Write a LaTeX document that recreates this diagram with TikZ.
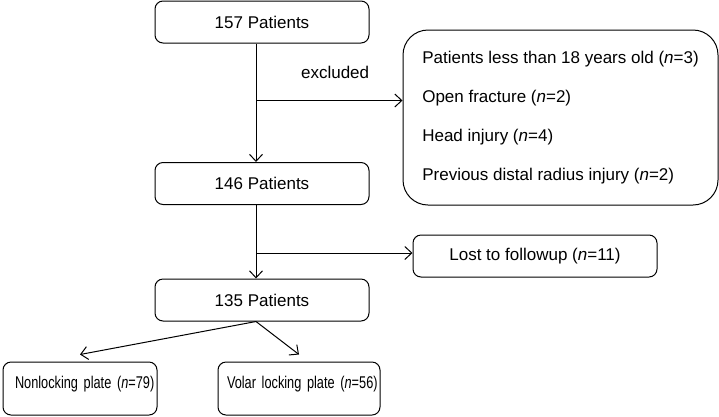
\documentclass[tikz,border=0pt]{standalone}
\usepackage{fontspec}
\setmainfont{Liberation Sans}
\newfontfamily\narrowfont[FakeStretch=0.75]{Liberation Sans}
\usetikzlibrary{positioning, arrows.meta}

\begin{document}
\begin{tikzpicture}[x=1pt, y=-1pt, on grid, line width=1pt,
    font=\fontsize{17}{20}\selectfont,
    >={Straight Barb[length=7pt, width=13pt]}]
                \tikzset{
                    box/.style={draw, rounded corners=8pt, minimum width=214pt, minimum height=42pt, inner sep=0pt},
                    leafbox/.style={draw, rounded corners=8pt, align=left, text height=18pt, text depth=19pt, inner ysep=8pt,
                                    font=\narrowfont\fontsize{17}{20}\selectfont}
                }
                \useasboundingbox (0,0) rectangle (719,416);

                % PATIENT COUNTS
                \node[box] (p157) at (262,22) {157 Patients};
                \node[box] (p146) [below=161.5pt of p157] {146 Patients};
                \node[box] (p135) [below=116.5pt of p146] {135 Patients};

                % EXCLUSIONS
                \node[draw, rounded corners=25pt, minimum width=315pt, minimum height=175pt, align=left,
                      font=\fontsize{17}{39}\selectfont] (excl) [below right=95.5pt and 298.5pt of p157]
                      {Patients less than 18 years old (\textit{n}=3)\\
                       Open fracture (\textit{n}=2)\\
                       Head injury (\textit{n}=4)\\
                       Previous distal radius injury (\textit{n}=2)};
                \node[box, minimum width=244pt] (lost) [below right=72.5pt and 273pt of p146] {Lost to followup (\textit{n}=11)};

                % GROUPS
                \node[leafbox, inner xsep=12pt, text width=130pt] (nonlock) [below left=88.5pt and 182pt of p135] {\mbox{Nonlocking plate (\textit{n}=79)}};
                \node[leafbox, inner xsep=9pt, text width=144pt] (volar) [below right=88.5pt and 37pt of p135] {\mbox{Volar locking plate (\textit{n}=56)}};

                % BRANCH POINTS
                \coordinate (b1) at ([xshift=-6pt, yshift=-57pt] p157.south);
                \coordinate (b2) at ([xshift=-6pt, yshift=-48pt] p146.south);

                % TRANSITIONS
                \draw[->] ([xshift=-6pt] p157.south) -- ([xshift=-6pt] p146.north);
                \draw[->] (b1) -- node[pos=0.54, yshift=28pt] {excluded} (b1 -| excl.west);
                \draw[->] ([xshift=-6pt] p146.south) -- ([xshift=-6pt] p135.north);
                \draw[->] (b2) -- (b2 -| lost.west);
                \draw[->] ([xshift=-6pt] p135.south) -- ([yshift=7pt] nonlock.north);
                \draw[->] ([xshift=-6pt] p135.south) -- ([yshift=7pt] volar.north);

            \end{tikzpicture}
\end{document}
